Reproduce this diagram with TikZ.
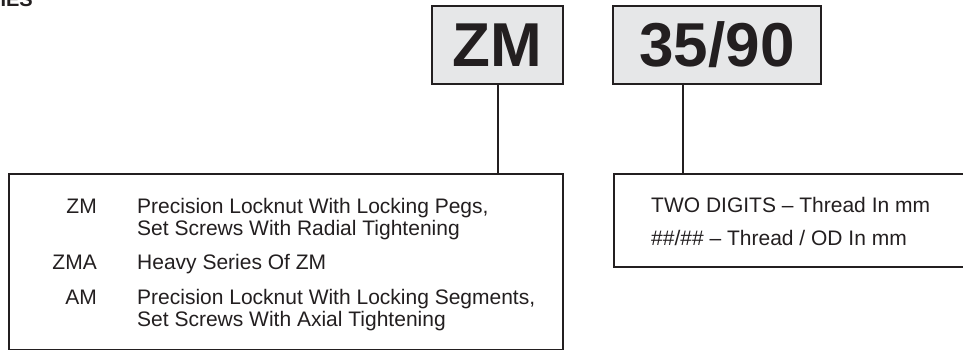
\documentclass[tikz,border=0pt]{standalone}
\usepackage{fontspec}
\setmainfont{Liberation Sans}
\definecolor{ink}{HTML}{231F20}
\definecolor{boxgray}{HTML}{E6E7E8}
\tikzset{
  codebox/.style={draw=ink, line width=2pt, fill=boxgray, inner sep=0pt, anchor=north west},
  infobox/.style={draw=ink, line width=2pt, fill=white, inner sep=0pt, anchor=north west},
  conn/.style={draw=ink, line width=2pt},
  bigtxt/.style={text=ink, font=\fontsize{62}{62}\selectfont\bfseries, inner sep=0pt},
  lbl/.style={text=ink, font=\fontsize{21}{22}\selectfont, inner sep=0pt, anchor=base east},
  desc/.style={text=ink, font=\fontsize{21}{22}\selectfont, inner sep=0pt, anchor=base west},
  head/.style={text=ink, font=\fontsize{20}{22}\selectfont\bfseries, inner sep=0pt, anchor=base east}
}
\begin{document}
\begin{tikzpicture}[x=1pt, y=-1pt]
\useasboundingbox (0,0) rectangle (963,350);
\clip (0,0) rectangle (963,350);
% heading fragment
\node[head] (hd) at (33,7) {IES};
% code boxes
\node[codebox, minimum width=131pt, minimum height=78pt] (zm) at (431,5) {};
\node[bigtxt] (zmt) at (zm.center) {ZM};
\node[codebox, minimum width=208pt, minimum height=78pt] (num) at (612,5) {};
\node[bigtxt] (numt) at (num.center) {35/90};
% info boxes
\node[infobox, minimum width=554pt, minimum height=176pt] (lbox) at (8,173) {};
\node[infobox, minimum width=360pt, minimum height=93pt] (rbox) at (613,173) {};
% connectors
\draw[conn] (zm.south) -- (zm.south |- lbox.north);
\coordinate (c2) at (683,83);
\draw[conn] (c2) -- (c2 |- rbox.north);
% left box text
\node[lbl] (l1) at (97,213) {ZM};
\node[desc] (d1a) at (137,213) {Precision Locknut With Locking Pegs,};
\node[desc] (d1b) at (137,235) {Set Screws With Radial Tightening};
\node[lbl] (l2) at (97,269) {ZMA};
\node[desc] (d2) at (137,269) {Heavy Series Of ZM};
\node[lbl] (l3) at (97,304) {AM};
\node[desc] (d3a) at (137,304) {Precision Locknut With Locking Segments,};
\node[desc] (d3b) at (137,326) {Set Screws With Axial Tightening};
% right box text
\node[desc] (r1) at (651,212) {TWO DIGITS – Thread In mm};
\node[desc] (r2) at (651,245) {\#\#/\#\# – Thread / OD In mm};
\end{tikzpicture}
\end{document}
